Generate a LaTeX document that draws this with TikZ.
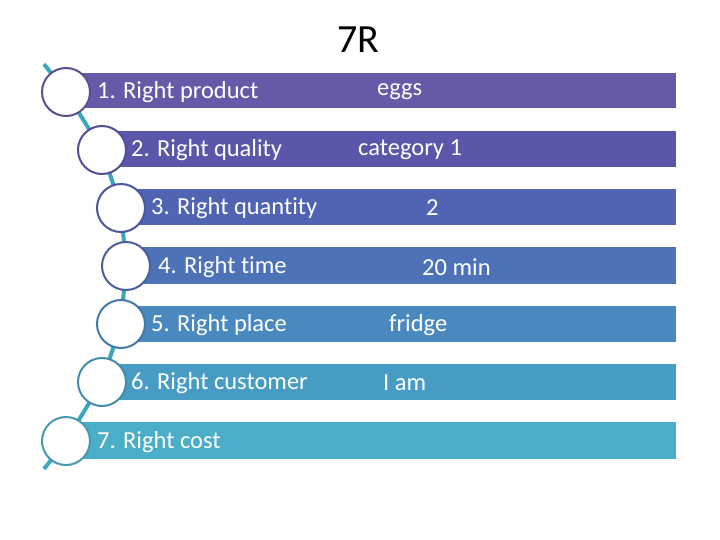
\documentclass[tikz,border=0pt]{standalone}
\usepackage{fontspec}
\setmainfont[Ligatures={NoCommon,NoRare,NoDiscretionary}]{Carlito}
\begin{document}
\begin{tikzpicture}[x=1pt,y=-1pt,
  bar/.style={fill=#1,draw=none},
  ring/.style={circle,draw=#1,line width=2pt,fill=white,minimum size=48pt,inner sep=0pt},
  lbl/.style={anchor=west,text=white,font=\fontsize{24.5}{28}\selectfont,inner sep=0pt},
  val/.style={anchor=west,text=white,font=\fontsize{24.5}{28}\selectfont,inner sep=0pt},
  link/.style={draw=linkc,line width=4pt}]
\definecolor{linkc}{HTML}{3AA7BE}
\definecolor{b1}{HTML}{6659A8}
\definecolor{b2}{HTML}{5957AA}
\definecolor{b3}{HTML}{5163B3}
\definecolor{b4}{HTML}{4D72B8}
\definecolor{b5}{HTML}{4A89C0}
\definecolor{b6}{HTML}{479CC3}
\definecolor{b7}{HTML}{4AAEC8}
\definecolor{r1}{HTML}{5B4F8E}
\definecolor{r2}{HTML}{524D98}
\definecolor{r3}{HTML}{4A559E}
\definecolor{r4}{HTML}{46609F}
\definecolor{r5}{HTML}{4478A8}
\definecolor{r6}{HTML}{428CAE}
\definecolor{r7}{HTML}{4598B0}
\useasboundingbox (0,0) rectangle (720,540);
\node[font=\fontsize{40}{44}\selectfont,text=black] (title) at (358,40) {7R};
% bars
\foreach \i/\cx/\ya/\yb in {1/66/73/108,2/102/131/167,3/121/189/225,4/126/247/284,5/121/306/342,6/102/364/400,7/66/422/459}{
  \fill[b\i] (\cx,\ya) rectangle (676,\yb);
}
% connector ends
\coordinate (top) at (44,64);
\coordinate (bot) at (44,469);
% circles (positions)
\coordinate (p1) at (66,92);
\coordinate (p2) at (102,150);
\coordinate (p3) at (121,208);
\coordinate (p4) at (126,266);
\coordinate (p5) at (121,324);
\coordinate (p6) at (102,382);
\coordinate (p7) at (66,441);
\draw[link] (top) -- (p1) -- (p2) -- (p3) -- (p4) -- (p5) -- (p6) -- (p7) -- (bot);
\node[ring=r1] (c1) at (p1) {};
\node[ring=r2] (c2) at (p2) {};
\node[ring=r3] (c3) at (p3) {};
\node[ring=r4] (c4) at (p4) {};
\node[ring=r5] (c5) at (p5) {};
\node[ring=r6] (c6) at (p6) {};
\node[ring=r7] (c7) at (p7) {};
% labels
\node[lbl] (l1) at (97,92) {1. Right product};
\node[lbl] (l2) at (131,150) {2. Right quality};
\node[lbl] (l3) at (151,208) {3. Right quant\kern0pt ity};
\node[lbl] (l4) at (158,267) {4. Right t\kern0pt ime};
\node[lbl] (l5) at (151,325) {5. Right place};
\node[lbl] (l6) at (131,383) {6. Right customer};
\node[lbl] (l7) at (97,442) {7. Right cost};
% values
\node[val] (v1) at (377,92) {eggs};
\node[val] (v2) at (358,150) {category 1};
\node[val] (v3) at (426,208) {2};
\node[val] (v4) at (422,267) {20 min};
\node[val] (v5) at (389,325) {fridge};
\node[val] (v6) at (383,383) {I am};
\end{tikzpicture}
\end{document}
